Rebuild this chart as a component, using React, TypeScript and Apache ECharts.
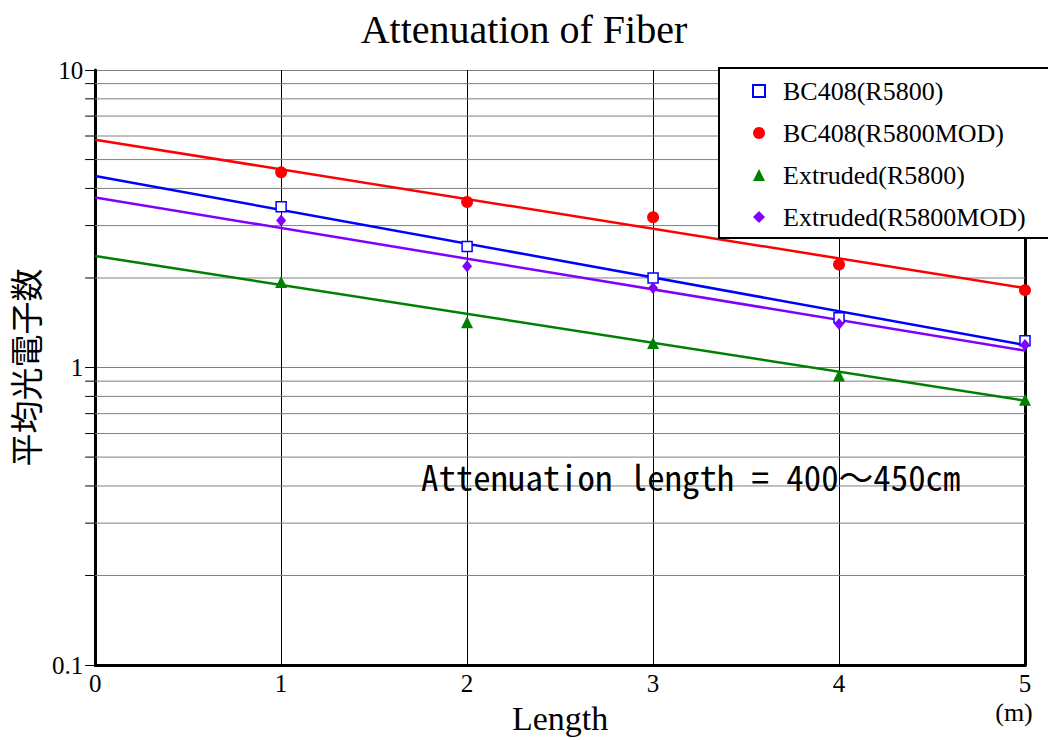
import React, { useEffect, useRef } from "react";
import * as echarts from "echarts";

const lengths = [1, 2, 3, 4, 5];
const bc408R5800 = [3.47, 2.55, 2.0, 1.47, 1.23];
const bc408R5800MOD = [4.53, 3.6, 3.2, 2.22, 1.82];
const extrudedR5800 = [1.94, 1.42, 1.21, 0.94, 0.78];
const extrudedR5800MOD = [3.12, 2.19, 1.85, 1.4, 1.19];

const fitX = [0, 5];
const fitBC408R5800 = [4.4, 1.19];
const fitBC408R5800MOD = [5.83, 1.85];
const fitExtrudedR5800 = [2.37, 0.774];
const fitExtrudedR5800MOD = [3.73, 1.14];

const seriesNames = [
  "BC408(R5800)",
  "BC408(R5800MOD)",
  "Extruded(R5800)",
  "Extruded(R5800MOD)",
];
const minorLevels = [0.2, 0.3, 0.4, 0.5, 0.6, 0.7, 0.8, 0.9, 2, 3, 4, 5, 6, 7, 8, 9];

const SERIF = "'Liberation Serif', 'Times New Roman', serif";

const pair = (xs: number[], ys: number[]) => xs.map((x, i) => [x, ys[i]]);

export default function App() {
  const ref = useRef<HTMLDivElement>(null);
  useEffect(() => {
    if (!ref.current) return;
    const chart = echarts.init(ref.current, null, { renderer: "svg" });
    const colors = ["#0000ff", "#ff0000", "#008000", "#8000ff"];
    const pts = [bc408R5800, bc408R5800MOD, extrudedR5800, extrudedR5800MOD];
    const fits = [fitBC408R5800, fitBC408R5800MOD, fitExtrudedR5800, fitExtrudedR5800MOD];
    const symbols = ["rect", "circle", "triangle", "diamond"];
    const sizes: any[] = [10, 12, 12, [10, 12]];

    const scatterSeries = seriesNames.map((name, i) => ({
      name,
      type: "scatter",
      data: pair(lengths, pts[i]),
      symbol: symbols[i],
      symbolSize: sizes[i],
      itemStyle:
        i === 0
          ? { color: "#ffffff", borderColor: colors[i], borderWidth: 1.5, opacity: 1 }
          : { color: colors[i], opacity: 1 },
      z: 4,
      silent: true,
    }));
    const fitSeries = seriesNames.map((name, i) => ({
      name: name + " fit",
      type: "line",
      data: pair(fitX, fits[i]),
      showSymbol: false,
      symbol: "none",
      lineStyle: { color: colors[i], width: 2.5 },
      itemStyle: { color: colors[i] },
      z: 3,
      silent: true,
    }));

    chart.setOption({
      animation: false,
      backgroundColor: "#ffffff",
      title: {
        text: "Attenuation of Fiber",
        left: "center",
        top: 4,
        textStyle: { fontFamily: SERIF, fontSize: 40, fontWeight: "normal", color: "#000" },
      },
      legend: {
        data: seriesNames,
        orient: "vertical",
        left: 719,
        top: 68,
        padding: [10, 40, 8, 33],
        itemGap: 16,
        itemWidth: 12,
        itemHeight: 12,
        backgroundColor: "#ffffff",
        borderColor: "#000000",
        borderWidth: 2,
        borderRadius: 0,
        selectedMode: false,
        textStyle: { fontFamily: SERIF, fontSize: 26, color: "#000", padding: [0, 0, 0, 13] },
      },
      grid: { left: 92, right: 23, top: 70, bottom: 73, containLabel: false },
      xAxis: {
        type: "value",
        min: 0,
        max: 5,
        interval: 1,
        name: "Length",
        nameLocation: "middle",
        nameGap: 34,
        nameTextStyle: { fontFamily: SERIF, fontSize: 34, color: "#000" },
        axisLine: { show: true, onZero: false, lineStyle: { color: "#000", width: 3 } },
        axisTick: { show: false },
        axisLabel: { fontFamily: SERIF, fontSize: 25, color: "#000", margin: 6 },
        splitLine: { show: true, lineStyle: { color: "#000", width: 1 } },
      },
      yAxis: [
        {
          type: "log",
          logBase: 10,
          min: 0.1,
          max: 10,
          name: "平均光電子数",
          nameLocation: "middle",
          nameRotate: 90,
          nameGap: 48,
          nameTextStyle: { fontFamily: "'Noto Sans CJK JP', sans-serif", fontSize: 33, color: "#000" },
          axisLine: { show: true, lineStyle: { color: "#000", width: 3 } },
          axisTick: { show: true, length: 10, lineStyle: { color: "#000", width: 1 } },
          axisLabel: { fontFamily: SERIF, fontSize: 25, color: "#000", margin: 12 },
          splitLine: { show: true, lineStyle: { color: "#808080", width: 1 } },
        },
        {
          type: "log",
          logBase: 10,
          min: 0.1,
          max: 10,
          position: "right",
          axisLine: { show: true, lineStyle: { color: "#000", width: 3 } },
          axisTick: { show: false },
          axisLabel: { show: false },
          splitLine: { show: false },
        },
      ],
      graphic: [
        {
          type: "text",
          x: 421,
          y: 476,
          style: {
            text: "Attenuation length = 400～450cm",
            fontFamily: "'Noto Sans Mono CJK JP', 'Noto Sans Mono CJK SC', monospace",
            fontSize: 34.8,
            fill: "#000",
            align: "left",
            verticalAlign: "middle",
          },
          z: 5,
        },
        {
          type: "text",
          x: 1014,
          y: 712,
          style: {
            text: "(m)",
            fontFamily: SERIF,
            fontSize: 26,
            fill: "#000",
            align: "center",
            verticalAlign: "middle",
          },
        },
      ],
      series: [
        {
          type: "custom",
          name: "minor grid",
          data: minorLevels.map((v) => [0, v]),
          encode: { x: 0, y: 1 },
          clip: false,
          silent: true,
          z: 1,
          renderItem: (_params: any, api: any) => {
            const v = api.value(1);
            const a = api.coord([0, v]);
            const b = api.coord([5, v]);
            return {
              type: "group",
              children: [
                {
                  type: "line",
                  shape: { x1: a[0], y1: a[1], x2: b[0], y2: b[1] },
                  style: { stroke: "#808080", lineWidth: 1 },
                },
                {
                  type: "line",
                  shape: { x1: a[0] - 10, y1: a[1], x2: a[0], y2: a[1] },
                  style: { stroke: "#000000", lineWidth: 1 },
                },
              ],
            };
          },
        },
        ...fitSeries,
        ...scatterSeries,
      ],
    });
    return () => chart.dispose();
  }, []);
  return (
    <div
      ref={ref}
      style={{ position: "fixed", left: 0, top: 0, width: 1048, height: 740, background: "#fff" }}
    />
  );
}
